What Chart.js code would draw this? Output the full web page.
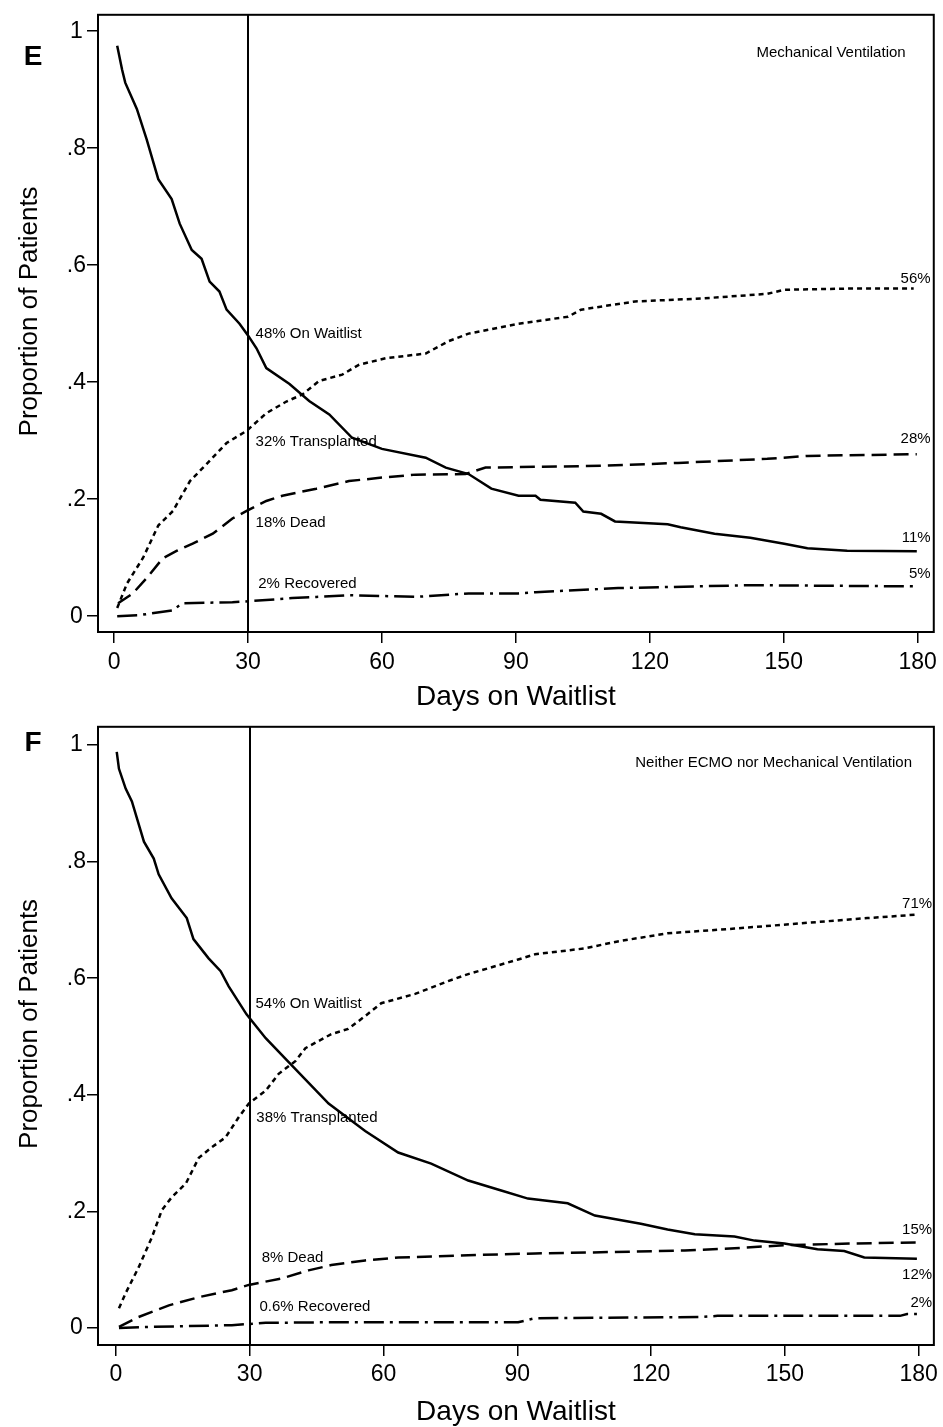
<!DOCTYPE html>
<html>
<head>
<meta charset="utf-8">
<script src="https://cdn.jsdelivr.net/npm/chart.js@4.4.1/dist/chart.umd.min.js"></script>
<style>
  html, body { margin: 0; padding: 0; background: #fff; }
  #wrap { position: relative; width: 943px; height: 1427px; }
  canvas { position: absolute; left: 0; }
</style>
</head>
<body>
<div id="wrap">
  <canvas id="panelE" width="943" height="712" style="top:0"></canvas>
  <canvas id="panelF" width="943" height="715" style="top:712px"></canvas>
</div>
<script>
// ---- values ----
var xTicks = [0, 30, 60, 90, 120, 150, 180];
var yTicks = [0, 0.2, 0.4, 0.6, 0.8, 1];
var yTickLabels = ['0', '.2', '.4', '.6', '.8', '1'];
var cutoffDay = 30;

// panel E - mechanical ventilation
var eWaitDays = [0.7, 1.8, 2.5, 5.1, 7.3, 9.9, 12.9, 14.7, 17.4, 19.6, 21.4, 23.6, 25.2, 28.1, 30, 31.9, 34.1, 39.3, 43.7, 48.2, 53.3, 60, 69.8, 74.3, 79.4, 84.5, 90.6, 94.4, 95.5, 103.3, 105.1, 109.1, 112.2, 124, 126.9, 134.5, 142.5, 150.1, 155.3, 164.2, 179.8];
var eWaitVals = [0.975, 0.934, 0.912, 0.867, 0.815, 0.747, 0.713, 0.671, 0.626, 0.611, 0.572, 0.555, 0.524, 0.5, 0.48, 0.458, 0.424, 0.397, 0.368, 0.345, 0.305, 0.286, 0.271, 0.254, 0.243, 0.218, 0.206, 0.206, 0.199, 0.194, 0.179, 0.175, 0.162, 0.157, 0.152, 0.141, 0.134, 0.124, 0.116, 0.112, 0.111];
var eTxDays = [0.7, 2.9, 6.5, 9.9, 13.2, 17, 20.7, 25.2, 29.7, 34.1, 38.6, 42.2, 45.9, 51.1, 54.9, 60.9, 69.8, 74.9, 79.4, 90.6, 101.7, 104.6, 116.7, 131.4, 146.3, 150.1, 164.8, 179.1];
var eTxVals = [0.014, 0.056, 0.1, 0.155, 0.18, 0.231, 0.26, 0.296, 0.317, 0.347, 0.367, 0.379, 0.402, 0.413, 0.43, 0.441, 0.449, 0.47, 0.483, 0.5, 0.512, 0.524, 0.538, 0.543, 0.551, 0.558, 0.56, 0.56];
var eDeadDays = [0.9, 4.2, 7.4, 10.9, 14.1, 17.6, 22.1, 26.5, 29.7, 34.1, 37.7, 45.3, 52.6, 60, 67.6, 78.7, 83.2, 109.1, 126.3, 146.3, 155.3, 179.8];
var eDeadVals = [0.022, 0.039, 0.066, 0.099, 0.112, 0.124, 0.141, 0.167, 0.18, 0.197, 0.206, 0.218, 0.231, 0.237, 0.242, 0.243, 0.254, 0.257, 0.262, 0.269, 0.274, 0.277];
var eRecDays = [0.7, 5.8, 13.2, 15.2, 26.5, 31, 39.9, 45.3, 52.6, 67.6, 79.4, 90.6, 94.4, 112.9, 142.5, 179.8];
var eRecVals = [0, 0.002, 0.01, 0.022, 0.024, 0.026, 0.031, 0.033, 0.036, 0.033, 0.039, 0.039, 0.041, 0.048, 0.053, 0.051];

// panel F - neither ECMO nor mechanical ventilation
var fWaitDays = [0.2, 0.7, 2.2, 3.6, 6.3, 8.5, 9.6, 12.5, 15.9, 17.4, 20.8, 23.5, 25.3, 29.3, 33.6, 38, 47.7, 55.9, 63.3, 70.7, 79, 86.4, 92.4, 101.3, 107.4, 117.7, 123.7, 129.8, 138.7, 143.2, 149.9, 157.3, 163.3, 167.8, 179.6];
var fWaitVals = [0.988, 0.959, 0.925, 0.903, 0.834, 0.805, 0.778, 0.737, 0.703, 0.667, 0.634, 0.612, 0.586, 0.538, 0.497, 0.462, 0.385, 0.338, 0.301, 0.282, 0.253, 0.236, 0.222, 0.214, 0.193, 0.179, 0.169, 0.161, 0.157, 0.15, 0.145, 0.135, 0.132, 0.121, 0.119];
var fTxDays = [0.7, 2.2, 5.1, 8.1, 10.3, 12.5, 15.7, 18.6, 21.5, 24.6, 27.5, 29.8, 33.6, 36.5, 40.3, 42.5, 48.3, 52.1, 55.9, 59.5, 67.1, 74.5, 79, 90.2, 94, 105.1, 112.5, 123.7, 138.7, 153.5, 168.5, 179.6];
var fTxVals = [0.034, 0.06, 0.104, 0.156, 0.202, 0.224, 0.248, 0.292, 0.31, 0.327, 0.361, 0.385, 0.407, 0.436, 0.458, 0.48, 0.504, 0.513, 0.535, 0.557, 0.573, 0.595, 0.607, 0.632, 0.641, 0.651, 0.663, 0.677, 0.685, 0.694, 0.703, 0.709];
var fDeadDays = [0.7, 5.1, 11.9, 18.6, 26, 29.8, 37.1, 43.2, 48.3, 55.9, 63.3, 79, 94, 108.7, 127.5, 138.7, 149.9, 164.7, 179.6];
var fDeadVals = [0.002, 0.019, 0.039, 0.053, 0.065, 0.074, 0.085, 0.099, 0.108, 0.116, 0.121, 0.125, 0.128, 0.13, 0.133, 0.137, 0.142, 0.145, 0.147];
var fRecDays = [0.7, 7.4, 26, 33.6, 48.3, 79, 90.2, 94, 131.1, 134.9, 175.8, 177.4, 179.6];
var fRecVals = [0, 0.002, 0.005, 0.009, 0.01, 0.01, 0.01, 0.017, 0.019, 0.021, 0.021, 0.024, 0.024];

// text labels placed in data units
var eNotes = [
  ['Mechanical Ventilation', 177.3, 0.963, 'right'],
  ['48% On Waitlist', 31.7, 0.483, 'left'],
  ['32% Transplanted', 31.7, 0.298, 'left'],
  ['18% Dead', 31.7, 0.16, 'left'],
  ['2% Recovered', 32.3, 0.056, 'left'],
  ['56%', 182.9, 0.577, 'right'],
  ['28%', 182.9, 0.303, 'right'],
  ['11%', 182.9, 0.134, 'right'],
  ['5%', 182.9, 0.073, 'right']
];
var fNotes = [
  ['Neither ECMO nor Mechanical Ventilation', 178.5, 0.969, 'right'],
  ['54% On Waitlist', 31.3, 0.556, 'left'],
  ['38% Transplanted', 31.5, 0.361, 'left'],
  ['8% Dead', 32.7, 0.12, 'left'],
  ['0.6% Recovered', 32.2, 0.036, 'left'],
  ['71%', 183, 0.728, 'right'],
  ['15%', 183, 0.168, 'right'],
  ['12%', 183, 0.091, 'right'],
  ['2%', 183, 0.043, 'right']
];

var FONT = '"Liberation Sans", Arial, Helvetica, sans-serif';

function pts(days, vals) {
  return days.map(function (d, i) { return { x: d, y: vals[i] }; });
}

function line(data, dash) {
  return {
    data: data,
    borderColor: '#000',
    borderWidth: 2.5,
    borderDash: dash,
    pointRadius: 0,
    tension: 0,
    fill: false
  };
}

// frame, cutoff line, panel letter, y title and the text notes
var decor = {
  id: 'decor',
  afterDatasetsDraw: function (chart, args, o) {
    var ctx = chart.ctx, a = chart.chartArea;
    var xs = chart.scales.x, ys = chart.scales.y;
    ctx.save();
    ctx.strokeStyle = '#000';
    ctx.lineWidth = 2;
    var cx = Math.round(xs.getPixelForValue(cutoffDay));
    ctx.beginPath();
    ctx.moveTo(cx, a.top);
    ctx.lineTo(cx, a.bottom);
    ctx.stroke();
    ctx.strokeRect(a.left, a.top, a.right - a.left, a.bottom - a.top);

    ctx.fillStyle = '#000';
    ctx.textBaseline = 'middle';
    ctx.font = '15px ' + FONT;
    o.notes.forEach(function (n) {
      ctx.textAlign = n[3];
      ctx.fillText(n[0], xs.getPixelForValue(n[1]), ys.getPixelForValue(n[2]));
    });

    ctx.textAlign = 'center';
    ctx.font = 'bold 28px ' + FONT;
    ctx.fillText(o.letter, 33, o.letterY);

    ctx.font = '26px ' + FONT;
    ctx.translate(30, (a.top + a.bottom) / 2 - 12);
    ctx.rotate(-Math.PI / 2);
    ctx.fillText('Proportion of Patients', 0, 0);
    ctx.restore();
  }
};

function makePanel(id, series, notes, letter, letterY, top, lim, tickPad) {
  var canvas = document.getElementById(id);
  var axisH = canvas.height - top - 620;
  return new Chart(canvas, {
    type: 'line',
    data: {
      datasets: [
        line(pts(series[0], series[1]), []),
        line(pts(series[2], series[3]), [5, 4]),
        line(pts(series[4], series[5]), [15, 7]),
        line(pts(series[6], series[7]), [20, 6, 3, 6])
      ]
    },
    options: {
      responsive: false,
      animation: false,
      layout: { padding: { left: 0, top: top, right: 6, bottom: 0 } },
      plugins: {
        legend: { display: false },
        tooltip: { enabled: false },
        decor: { notes: notes, letter: letter, letterY: letterY }
      },
      scales: {
        x: {
          type: 'linear',
          min: lim[0], max: lim[1],
          afterBuildTicks: function (s) { s.ticks = xTicks.map(function (v) { return { value: v }; }); },
          afterFit: function (s) { s.height = axisH; },
          grid: { drawOnChartArea: false, drawTicks: true, tickLength: 11, color: '#000', lineWidth: 1.5 },
          border: { display: false },
          ticks: { color: '#000', padding: tickPad, maxRotation: 0, font: { family: FONT, size: 23 } },
          title: {
            display: true, text: 'Days on Waitlist', color: '#000',
            font: { family: FONT, size: 28, lineHeight: 1 },
            padding: { top: 0, bottom: 1 }
          }
        },
        y: {
          type: 'linear',
          min: lim[2], max: lim[3],
          afterBuildTicks: function (s) { s.ticks = yTicks.map(function (v) { return { value: v }; }); },
          afterFit: function (s) { s.width = 98; },
          grid: { drawOnChartArea: false, drawTicks: true, tickLength: 11, color: '#000', lineWidth: 1.5 },
          border: { display: false },
          ticks: {
            color: '#000', padding: 1, crossAlign: 'center',
            font: { family: FONT, size: 23 },
            callback: function (v) { return yTickLabels[yTicks.indexOf(v)]; }
          }
        }
      }
    },
    plugins: [decor]
  });
}

makePanel('panelE',
  [eWaitDays, eWaitVals, eTxDays, eTxVals, eDeadDays, eDeadVals, eRecDays, eRecVals],
  eNotes, 'E', 57, 12, [-3.6, 183.6, -0.027, 1.028], 6);

makePanel('panelF',
  [fWaitDays, fWaitVals, fTxDays, fTxVals, fDeadDays, fDeadVals, fRecDays, fRecVals],
  fNotes, 'F', 31, 13, [-4.0, 183.4, -0.029, 1.031], 5);
</script>
</body>
</html>
